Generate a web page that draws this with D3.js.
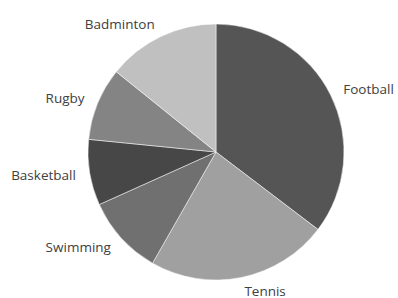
<!DOCTYPE html>
<html>
<head>
<meta charset="utf-8">
<script src="https://cdn.jsdelivr.net/npm/d3@7"></script>
<style>
  body { margin: 0; background: #fff; }
  text { font-family: "Open Sans", sans-serif; font-size: 13.5px; fill: #404040; }
</style>
</head>
<body>
<script>
// shares, clockwise from 12 o'clock
const sports = ['Football', 'Tennis', 'Swimming', 'Basketball', 'Rugby', 'Badminton'];
const shares = [35.3, 22.9, 10.0, 8.3, 9.2, 14.2];
const greys = ['#555555', '#a0a0a0', '#707070', '#474747', '#848484', '#c0c0c0'];

const width = 398;
const height = 298;
const cx = 216;
const cy = 152;
const radius = 128;

const data = sports.map((s, i) => ({ name: s, value: shares[i] }));

const svg = d3.select('body')
    .append('svg')
    .attr('width', width)
    .attr('height', height);

const color = d3.scaleOrdinal()
    .domain(sports)
    .range(greys);

const pie = d3.pie()
    .sort(null)
    .value(d => d.value);

const arc = d3.arc()
    .innerRadius(0)
    .outerRadius(radius);

const labelArc = d3.arc()
    .innerRadius(radius + 14)
    .outerRadius(radius + 14);

const g = svg.append('g')
    .attr('transform', `translate(${cx}, ${cy})`);

const arcs = pie(data);

g.selectAll('path')
    .data(arcs)
    .enter()
    .append('path')
    .attr('d', arc)
    .attr('fill', d => color(d.data.name))
    .attr('stroke', '#fff')
    .attr('stroke-width', 0.5);

g.selectAll('text')
    .data(arcs)
    .enter()
    .append('text')
    .text(d => d.data.name)
    .attr('x', d => labelArc.centroid(d)[0])
    .attr('y', d => labelArc.centroid(d)[1])
    .attr('dy', '0.35em')
    .attr('text-anchor', d => {
        const s = Math.sin((d.startAngle + d.endAngle) / 2);
        return s > 0 ? 'start' : 'end';
    });
</script>
</body>
</html>
